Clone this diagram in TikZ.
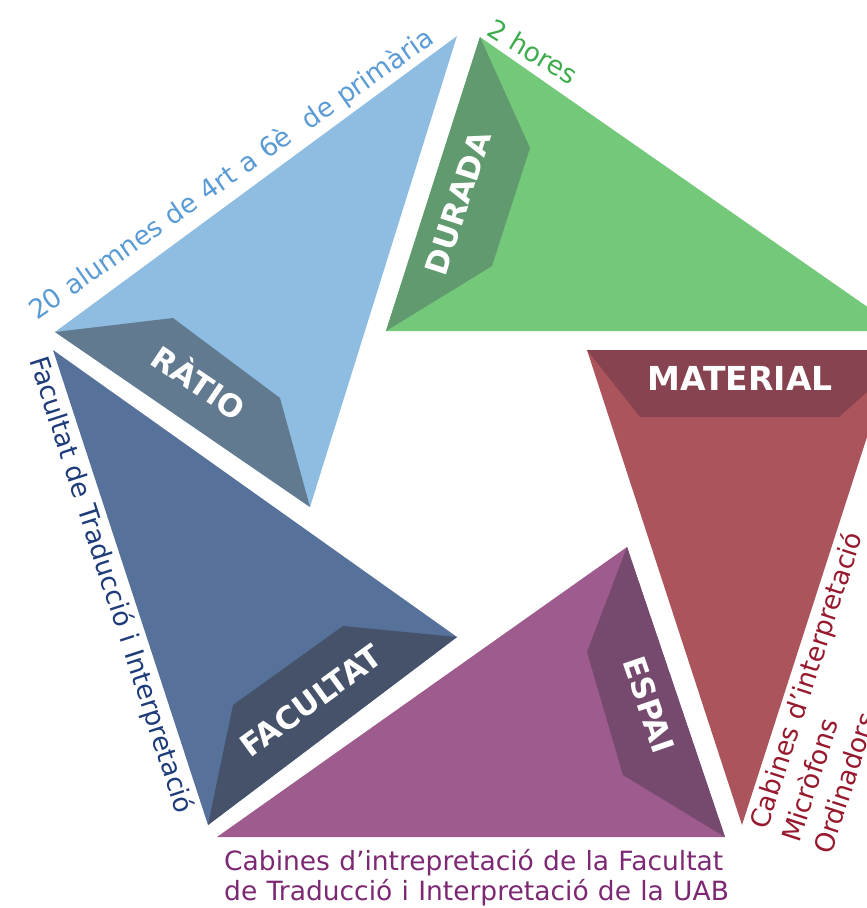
\documentclass[tikz,border=0pt]{standalone}
\usepackage{fontspec}
\setmainfont[WordSpace=1.1]{DejaVu Sans}
\definecolor{cGrn}{RGB}{116,200,121}
\definecolor{cGrnD}{RGB}{96,154,110}
\definecolor{cLb}{RGB}{142,189,225}
\definecolor{cLbD}{RGB}{97,122,143}
\definecolor{cDb}{RGB}{86,114,154}
\definecolor{cDbD}{RGB}{70,82,106}
\definecolor{cPur}{RGB}{157,91,142}
\definecolor{cPurD}{RGB}{118,73,111}
\definecolor{cRed}{RGB}{171,84,92}
\definecolor{cRedD}{RGB}{135,67,80}
\definecolor{tGrn}{RGB}{60,172,76}
\definecolor{tBlue}{RGB}{91,155,213}
\definecolor{tNavy}{RGB}{31,60,122}
\definecolor{tPur}{RGB}{125,40,115}
\definecolor{tRed}{RGB}{150,25,45}
\begin{document}
\begin{tikzpicture}[x=1pt,y=-1pt,
  lbl/.style={font=\bfseries\fontsize{31}{37}\selectfont, text=white, inner sep=0pt},
  desc/.style={font=\fontsize{26.5}{31}\selectfont, inner sep=0pt, anchor=base west}]
\useasboundingbox (0,0) rectangle (867,908);
\begin{scope}
\clip (0,0) rectangle (867,908);
% DURADA (green)
\fill[cGrn] (480,37) -- (902,331) -- (386,331) -- cycle;
\fill[cGrnD] (480,37) -- (530,148) -- (492,266) -- (386,331) -- cycle;
% RATIO (light blue)
\fill[cLb] (457,36) -- (310,507) -- (55,332) -- cycle;
\fill[cLbD] (55,332) -- (173,318) -- (280,398) -- (310,507) -- cycle;
% FACULTAT (dark blue)
\fill[cDb] (53,350) -- (457,637) -- (208,825) -- cycle;
\fill[cDbD] (208,825) -- (233,705) -- (343,626) -- (457,637) -- cycle;
% ESPAI (purple)
\fill[cPur] (627,547) -- (725,837) -- (217,837) -- cycle;
\fill[cPurD] (627,547) -- (587,652) -- (623,775) -- (725,837) -- cycle;
% MATERIAL (red)
\fill[cRed] (587,350) -- (895,350) -- (742,825) -- cycle;
\fill[cRedD] (587,350) -- (640,417) -- (839,417) -- (914,350) -- cycle;
\end{scope}
% labels
\node[lbl, rotate=72] (durada) at (458,203) {DURADA};
\node[lbl, rotate=-34] (ratio) at (200,381) {RÀTIO};
\node[lbl, rotate=36] (facultat) at (311,701) {FACULTAT};
\node[lbl, rotate=-71] (espai) at (649,705) {ESPAI};
\node[lbl, font=\bfseries\fontsize{33}{39}\selectfont] (material) at (740,378) {MATERIAL};
% descriptions
\node[desc, text=tGrn, rotate=-31] (hores) at (485,34) {2 hores};
\node[desc, text=tBlue, rotate=35] (alumnes) at (37,321) {20 alumnes de 4rt a 6è\ \ de primària};
\node[desc, text=tNavy, rotate=-72] (facdesc) at (29,360) {Facultat de Traducció i Interpretació};
\node[desc, text=tPur] (cab1) at (224,870) {Cabines d’intrepretació de la Facultat};
\node[desc, text=tPur] (cab2) at (224,900) {de Traducció i Interpretació de la UAB};
\node[desc, text=tRed, rotate=72] (mat1) at (767,831) {Cabines d’interpretació};
\node[desc, text=tRed, rotate=72] (mat2) at (799,844) {Micròfons};
\node[desc, text=tRed, rotate=72] (mat3) at (831,856) {Ordinadors};
\end{tikzpicture}
\end{document}
